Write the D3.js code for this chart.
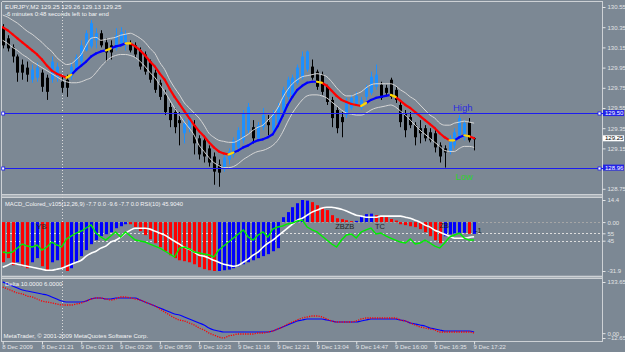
<!DOCTYPE html>
<html lang="en">
<head>
<meta charset="UTF-8">
<title>EURJPY,M2</title>
<script src="https://cdn.jsdelivr.net/npm/d3@7"></script>
<style>
body { margin: 0; background-color: #7c8894; }
svg { display: block; font-family: "Liberation Sans", Arial, sans-serif; }
.frame { stroke: #cdd1d5; shape-rendering: crispEdges; }
.band { fill: none; stroke: #d6d6d6; stroke-width: 1; }
.level { stroke-dasharray: 2,2; shape-rendering: crispEdges; }
</style>
</head>
<body>
<div id="chart"></div>
<script>
// ---- data (bar index 0 = first bar on the left) ----
const symbol = "EURJPY,M2";
const timeLeft = "-6 minutes 0:48 seconds left to bar end";

const open = [130.35,130.24,130.15,130.06,129.98,129.95,129.83,129.85,129.90,129.85,
 129.83,129.85,129.81,129.83,129.86,129.93,130.01,130.12,130.16,130.22,
 130.29,130.20,130.17,130.14,130.19,130.19,130.19,130.17,130.12,130.08,
 130.01,129.90,129.80,129.68,129.56,129.51,129.43,129.30,129.35,129.38,
 129.25,129.23,129.15,129.07,128.99,128.96,129.04,129.09,129.16,129.23,
 129.33,129.36,129.25,129.36,129.41,129.33,129.40,129.53,129.66,129.68,
 129.80,129.85,129.93,129.96,129.91,129.88,129.76,129.63,129.53,129.46,
 129.48,129.55,129.59,129.55,129.66,129.70,129.76,129.78,129.75,129.83,
 129.73,129.58,129.50,129.46,129.38,129.35,129.35,129.31,129.30,129.18,
 129.15,129.12,129.18,129.28,129.26,129.41,129.25];
const high = [130.38,130.27,130.18,130.08,130.03,130.01,129.98,130.00,129.93,129.88,
 130.06,130.00,129.86,129.88,130.00,130.08,130.22,130.32,130.42,130.34,
 130.32,130.24,130.22,130.34,130.35,130.32,130.22,130.20,130.15,130.11,
 130.03,129.93,129.83,129.73,129.60,129.55,129.51,129.45,129.51,129.43,
 129.28,129.26,129.18,129.11,129.04,129.09,129.15,129.26,129.36,129.53,
 129.60,129.43,129.41,129.55,129.48,129.53,129.60,129.76,129.86,129.88,
 129.98,130.11,130.12,130.03,129.93,129.91,129.78,129.66,129.56,129.51,
 129.65,129.68,129.71,129.66,129.78,129.91,129.98,129.81,129.78,129.85,
 129.76,129.63,129.53,129.51,129.41,129.43,129.38,129.35,129.33,129.21,
 129.18,129.28,129.35,129.48,129.43,129.45,129.26];
const low = [130.14,130.11,130.00,129.81,129.83,129.81,129.80,129.81,129.71,129.63,
 129.80,129.81,129.70,129.66,129.83,129.91,129.98,130.11,130.14,130.14,
 130.15,130.01,130.03,130.12,130.16,130.12,130.10,130.05,129.93,129.88,
 129.80,129.70,129.63,129.48,129.36,129.30,129.18,129.20,129.31,129.09,
 129.04,129.01,128.97,128.79,128.77,128.92,128.99,129.06,129.13,129.20,
 129.30,129.20,129.23,129.33,129.28,129.31,129.38,129.51,129.63,129.66,
 129.78,129.83,129.91,129.83,129.73,129.68,129.58,129.36,129.30,129.26,
 129.45,129.53,129.57,129.53,129.63,129.68,129.73,129.63,129.67,129.64,
 129.60,129.36,129.26,129.35,129.18,129.20,129.22,129.21,129.11,129.01,
 128.96,129.09,129.15,129.25,129.23,129.21,129.13];
const close = [130.17,130.14,130.06,129.90,129.90,129.88,129.93,129.95,129.76,129.71,
 130.01,129.96,129.75,129.75,129.96,130.05,130.17,130.29,130.39,130.29,
 130.17,130.10,130.10,130.27,130.30,130.28,130.12,130.08,129.96,129.91,
 129.83,129.73,129.66,129.51,129.43,129.36,129.40,129.40,129.46,129.20,
 129.09,129.07,129.01,128.92,128.91,129.06,129.12,129.23,129.33,129.50,
 129.56,129.25,129.38,129.48,129.38,129.50,129.56,129.73,129.83,129.85,
 129.95,130.06,130.11,129.85,129.76,129.71,129.61,129.45,129.35,129.41,
 129.60,129.65,129.67,129.63,129.75,129.86,129.88,129.65,129.70,129.66,
 129.63,129.41,129.33,129.38,129.26,129.30,129.25,129.23,129.16,129.07,
 129.11,129.25,129.31,129.45,129.40,129.23,129.25];

// thick moving average and its trend state per segment (r falling, b rising, y turn)
const ma = [130.35,130.32,130.28,130.24,130.20,130.16,130.12,130.08,130.03,129.97,
 129.92,129.89,129.87,129.85,129.88,129.93,129.97,130.01,130.06,130.09,
 130.11,130.12,130.14,130.16,130.17,130.19,130.19,130.16,130.12,130.07,
 130.01,129.96,129.89,129.83,129.74,129.66,129.59,129.52,129.45,129.38,
 129.32,129.27,129.21,129.16,129.12,129.10,129.09,129.11,129.13,129.16,
 129.18,129.21,129.23,129.24,129.26,129.29,129.37,129.47,129.58,129.66,
 129.73,129.77,129.80,129.81,129.81,129.80,129.77,129.72,129.67,129.63,
 129.61,129.59,129.58,129.57,129.60,129.63,129.65,129.66,129.67,129.68,
 129.66,129.62,129.58,129.55,129.51,129.47,129.43,129.39,129.35,129.30,
 129.26,129.23,129.23,129.26,129.28,129.27,129.25];
const maTrend = ("rrrrrrrrrrrrr" + "y" + "bbbbbbb" + "y" + "bbb" + "y" +
 "rrrrrrrrrrrrrrrrrrrr" + "y" + "bbbbbbbbbbbbbbbbb" + "y" + "rrrrrrrr" + "y" +
 "bbbbb" + "y" + "rrrrrrrrrrr" + "y" + "bb" + "y" + "r").split("");

const bandUpper = [130.47,130.45,130.42,130.39,130.35,130.31,130.28,130.24,130.20,130.15,
 130.11,130.05,130.01,129.98,129.99,130.03,130.08,130.17,130.24,130.25,
 130.22,130.23,130.24,130.25,130.27,130.28,130.29,130.27,130.24,130.20,
 130.14,130.09,130.00,129.93,129.83,129.75,129.68,129.60,129.55,129.50,
 129.45,129.38,129.30,129.26,129.23,129.22,129.21,129.21,129.23,129.26,
 129.29,129.33,129.36,129.38,129.43,129.48,129.55,129.65,129.73,129.79,
 129.83,129.86,129.87,129.88,129.89,129.88,129.86,129.81,129.75,129.70,
 129.67,129.67,129.69,129.71,129.75,129.78,129.79,129.79,129.79,129.79,
 129.77,129.73,129.70,129.66,129.63,129.58,129.53,129.48,129.45,129.40,
 129.38,129.38,129.40,129.41,129.42,129.41,129.40];
const bandLower = [130.22,130.19,130.15,130.12,130.08,130.05,130.01,129.98,129.95,129.92,
 129.89,129.86,129.83,129.81,129.80,129.80,129.81,129.83,129.85,129.90,
 129.96,130.01,130.05,130.07,130.08,130.08,130.07,130.05,130.01,129.96,
 129.90,129.85,129.78,129.71,129.63,129.55,129.48,129.41,129.35,129.28,
 129.18,129.12,129.06,129.01,128.98,128.96,128.96,128.97,129.00,129.04,
 129.07,129.10,129.12,129.13,129.15,129.18,129.23,129.31,129.41,129.50,
 129.57,129.63,129.67,129.68,129.68,129.67,129.65,129.61,129.57,129.53,
 129.50,129.49,129.48,129.48,129.50,129.53,129.55,129.56,129.57,129.58,
 129.56,129.52,129.48,129.43,129.38,129.33,129.29,129.25,129.21,129.17,
 129.13,129.12,129.12,129.15,129.17,129.17,129.16];

const highLevel = 129.50, lowLevel = 128.96;
const priceTicks = [130.55,130.35,130.15,129.95,129.75,129.55,129.35,129.15,128.75];

// MACD_Colored histogram, its colour state, signal line and RSI(10)
const macdHist = [-26.2,-23.5,-28.1,-26.2,-28.8,-30.1,-26.2,-23.5,-28.8,-31.4,
 -26.2,-24.9,-30.1,-31.9,-30.1,-26.2,-22.2,-18.3,-14.4,-11.8,
 -9.2,-7.9,-6.6,-4.0,-2.7,-1.4,-1.4,-3.3,-5.9,-8.5,
 -11.2,-13.8,-16.4,-19.0,-21.6,-23.5,-24.9,-25.5,-26.2,-27.5,
 -29.4,-30.7,-31.4,-31.9,-31.9,-31.4,-31.0,-30.1,-28.8,-27.5,
 -26.2,-24.9,-23.5,-22.2,-20.9,-19.0,-17.0,3.2,6.5,9.7,
 12.3,14.4,14.0,13.0,11.0,9.7,7.8,4.5,2.5,1.9,
 1.2,0.6,0.8,3.8,5.2,5.5,4.5,3.8,3.2,2.0,
 1.0,-1.4,-2.0,-2.7,-3.3,-4.6,-6.6,-9.2,-11.8,-13.8,
 -9.2,-8.0,-7.5,-7.2,-7.0,-7.6,-7.7];
const macdState = ("rrrbrrbbrrbbrr" + "bbbbbbbbbbbb" + "rrrrrrrrrrrrrrrrrr" +
 "bbbbbbbbbbbbbbbbbbb" + "rrrrrrrrr" + "bbbb" + "rrrrrrrrrrrrrr" + "bbbbb" + "r" + "b").split("");
const macdSignal = [-29.4,-28.1,-26.8,-27.5,-28.1,-28.8,-29.4,-30.1,-30.7,-31.4,
 -31.4,-30.7,-30.1,-28.8,-27.5,-26.2,-24.9,-22.2,-20.3,-19.0,
 -17.0,-15.7,-13.1,-11.8,-9.8,-7.2,-5.3,-4.0,-4.0,-4.0,
 -4.6,-5.9,-7.2,-8.5,-10.5,-12.5,-14.4,-16.4,-17.7,-19.6,
 -21.6,-22.2,-23.5,-24.9,-26.2,-27.5,-28.1,-28.8,-28.1,-26.2,
 -24.2,-21.6,-19.6,-16.4,-13.8,-11.8,-9.2,-6.6,-4.0,-1.4,
 1.2,2.5,4.5,6.5,7.8,9.1,9.7,9.7,9.1,8.4,
 7.2,5.8,4.5,3.9,3.2,3.2,3.2,3.9,3.9,3.9,
 3.9,3.9,3.2,2.5,1.2,-0.1,-2.0,-3.3,-5.3,-6.6,
 -7.9,-9.2,-10.5,-10.5,-10.5,-10.0,-9.6];
const rsi = [29.7,28.4,29.7,35.1,40.5,37.8,36.5,39.2,32.4,36.5,
 43.2,39.2,36.5,47.3,51.4,55.4,58.1,62.2,66.2,55.4,
 50.0,45.9,51.4,56.8,50.0,56.8,51.4,45.9,44.6,43.2,
 40.5,37.8,35.1,31.1,27.0,23.0,35.1,36.5,33.8,29.7,
 28.4,27.0,25.7,23.0,32.4,37.8,43.2,48.6,54.1,59.5,
 50.0,45.9,52.7,56.8,50.0,60.8,63.5,64.9,67.6,68.9,
 71.6,73.0,63.5,59.5,56.8,51.4,45.9,40.5,36.5,45.9,
 52.7,54.1,48.6,56.8,59.5,62.2,54.1,55.4,51.4,48.6,
 45.9,43.2,41.9,47.3,40.5,41.9,45.9,41.9,37.8,35.1,
 41.9,50.0,52.7,55.4,48.6,45.9,45.904];
const rsiLevels = [55, 45];
const macdNotes = [["YB", 6.9, -4.6], ["ZBZB", 67.7, -4.8], ["TC", 75.8, -4.6], ["ZB", 88.9, -4.0], ["-1", 96.2, -7.2]];

// Delta(10,6) lines
const deltaBlue = [133.7,128.4,123.2,118.0,112.7,110.1,107.5,104.9,102.3,99.7,
 94.5,89.2,84.0,81.4,81.4,81.4,81.4,84.0,89.2,91.9,
 91.9,89.2,89.2,91.9,91.9,91.9,91.9,91.9,86.6,81.4,
 76.2,71.0,65.7,60.5,55.3,50.0,47.4,42.2,37.0,31.8,
 26.5,21.3,13.5,8.3,5.6,3.0,3.0,3.0,3.0,3.0,
 3.0,3.0,3.0,3.0,3.0,5.6,10.9,16.1,21.3,26.5,
 31.8,34.4,37.0,37.0,37.0,37.0,34.4,31.8,29.2,29.2,
 29.2,29.2,29.2,31.8,34.4,37.0,37.0,37.0,37.0,37.0,
 37.0,34.4,31.8,26.5,23.9,21.3,18.7,13.5,10.9,8.3,
 5.6,5.6,5.6,5.6,5.6,5.6,3.0];
const deltaRed = [120.6,115.4,110.1,104.9,102.3,97.1,94.5,89.2,84.0,81.4,
 78.8,76.2,73.6,73.6,73.6,76.2,78.8,84.0,89.2,91.9,
 91.9,89.2,86.6,89.2,94.5,94.5,91.9,89.2,86.6,81.4,
 76.2,71.0,63.1,55.3,47.4,39.6,34.4,31.8,26.5,21.3,
 13.5,8.3,0.4,-4.8,-10.0,-12.65,-7.4,-4.8,-2.2,-2.2,
 -2.2,-2.2,0.4,0.4,3.0,5.6,10.9,16.1,23.9,29.2,
 34.4,39.6,42.2,44.8,44.8,42.2,37.0,31.8,29.2,29.2,
 29.2,29.2,31.8,37.0,39.6,39.6,39.6,39.6,39.6,39.6,
 39.6,34.4,31.8,26.5,21.3,16.1,13.5,10.9,8.3,3.0,
 3.0,3.0,3.0,3.0,3.0,3.0,0.4];

const dates = ["8 Dec 2009","8 Dec 21:21","9 Dec 02:13","9 Dec 03:26","9 Dec 08:59","9 Dec 10:23",
 "9 Dec 11:16","9 Dec 12:21","9 Dec 13:04","9 Dec 14:47","9 Dec 16:00","9 Dec 16:35","9 Dec 17:22"];
const dateBars = [0,8,16,24,32,40,48,56,64,72,80,88,96];
const separatorBar = 12;

// ---- layout ----
const width = 625, height = 352;
const plotLeft = 2, plotRight = 602.5;
const mainPane = {top: 2, bottom: 194};
const macdPane = {top: 197.5, bottom: 275.5};
const deltaPane = {top: 279, bottom: 341};
const bullColor = "#1e90ff", bearColor = "#000000";
const lastBar = close.length - 1;
const bars = d3.range(close.length);

const svg = d3.select("#chart").append("svg")
    .attr("width", width)
    .attr("height", height);

svg.append("rect").attr("width", width).attr("height", height).attr("fill", "#7c8894");

const defs = svg.append("defs");
[["clipMain", mainPane], ["clipMacd", macdPane], ["clipDelta", deltaPane]].forEach(([id, p]) => {
    defs.append("clipPath").attr("id", id).append("rect")
        .attr("x", plotLeft).attr("y", p.top)
        .attr("width", plotRight - plotLeft).attr("height", p.bottom - p.top);
});

const x = d3.scaleLinear().domain([0, lastBar]).range([2.7, 474.1]);
const yPrice = d3.scaleLinear().domain([128.75, 130.55]).range([188.8, 7]);
const yMacd = d3.scaleLinear().domain([-31.9, 14.4]).range([271, 200]);
const yRsi = d3.scaleLinear().domain([0, 100]).range([274, 200]);
const yDelta = d3.scaleLinear().domain([-12.65, 133.65]).range([338, 282]);
const px = i => Math.round(x(i));

// pane separators and frame
[mainPane.bottom, macdPane.bottom].forEach(y0 => {
    svg.append("rect").attr("x", plotLeft).attr("y", y0)
        .attr("width", plotRight - plotLeft).attr("height", 3.5).attr("fill", "#a9b0b7");
    [y0 + 0.5, y0 + 3].forEach(yy => svg.append("line").attr("class", "frame")
        .attr("x1", plotLeft).attr("x2", plotRight).attr("y1", yy).attr("y2", yy).attr("stroke", "#d8dadc"));
});
svg.append("line").attr("class", "frame").attr("x1", 1.5).attr("x2", plotRight).attr("y1", 1.5).attr("y2", 1.5);
svg.append("line").attr("class", "frame").attr("x1", 1.5).attr("x2", 1.5).attr("y1", 1.5).attr("y2", deltaPane.bottom + 0.5);
svg.append("line").attr("class", "frame").attr("x1", plotRight).attr("x2", plotRight).attr("y1", 1.5).attr("y2", deltaPane.bottom + 0.5);
svg.append("line").attr("class", "frame").attr("x1", 1.5).attr("x2", plotRight).attr("y1", deltaPane.bottom + 0.5).attr("y2", deltaPane.bottom + 0.5);

// period separator
svg.append("line")
    .attr("x1", px(separatorBar) + 0.5).attr("x2", px(separatorBar) + 0.5)
    .attr("y1", 2).attr("y2", deltaPane.bottom)
    .attr("stroke", "#dcdcdc").attr("stroke-dasharray", "1,2");

// ---- main pane ----
const gMain = svg.append("g").attr("clip-path", "url(#clipMain)");
const candleColor = i => close[i] > open[i] ? bullColor : bearColor;

gMain.append("g").selectAll("line").data(bars).join("line")
    .attr("x1", i => px(i) + 0.5).attr("x2", i => px(i) + 0.5)
    .attr("y1", i => yPrice(high[i])).attr("y2", i => yPrice(low[i]))
    .attr("stroke", candleColor);
gMain.append("g").selectAll("rect").data(bars).join("rect")
    .attr("x", i => px(i) - 1).attr("width", 3)
    .attr("y", i => yPrice(Math.max(open[i], close[i])))
    .attr("height", i => Math.max(1, Math.abs(yPrice(open[i]) - yPrice(close[i]))))
    .attr("fill", candleColor);

const priceLine = d3.line().x((d, i) => x(i)).y(d => yPrice(d)).curve(d3.curveMonotoneX);
[bandUpper, bandLower].forEach(b => gMain.append("path").attr("class", "band").attr("d", priceLine(b)));

const trendColor = {r: "#ff0000", b: "#0000ff", y: "#ffd700"};
["r", "b", "y"].forEach(state => {
    gMain.append("g").selectAll("line").data(bars.slice(0, -1).filter(i => maTrend[i] === state)).join("line")
        .attr("x1", i => x(i)).attr("y1", i => yPrice(ma[i]))
        .attr("x2", i => x(i + 1)).attr("y2", i => yPrice(ma[i + 1]))
        .attr("stroke", trendColor[state]).attr("stroke-width", 2.2).attr("stroke-linecap", "round");
});

// High / Low levels
[highLevel, lowLevel].forEach(v => {
    const yy = Math.round(yPrice(v)) + 0.5;
    svg.append("line").attr("x1", 2).attr("x2", plotRight).attr("y1", yy).attr("y2", yy)
        .attr("stroke", "#1c1cf0").attr("shape-rendering", "crispEdges");
    [3.2, 599.5].forEach(cx => svg.append("rect").attr("x", cx - 1.5).attr("y", yy - 1.5)
        .attr("width", 3).attr("height", 3).attr("fill", "#ffffff").attr("stroke", "#1c1cf0").attr("stroke-width", 0.8));
});
svg.append("text").attr("x", 453).attr("y", yPrice(highLevel) - 2)
    .attr("font-size", 9.5).attr("fill", "#2b2be0").text("High");
svg.append("text").attr("x", 455.5).attr("y", yPrice(lowLevel) + 12)
    .attr("font-size", 9.5).attr("fill", "#2fd12f").text("Low");

// titles
svg.append("text").attr("x", 5).attr("y", 8.5).attr("font-size", 6.2).attr("fill", "#f4f4f4")
    .text(`${symbol}  ${open[lastBar].toFixed(2)} ${high[lastBar].toFixed(2)} ${low[lastBar].toFixed(2)} ${close[lastBar].toFixed(2)}`);
svg.append("text").attr("x", 5).attr("y", 15.5).attr("font-size", 6).attr("fill", "#f4f4f4").text(timeLeft);

// ---- MACD + RSI pane ----
const gMacd = svg.append("g").attr("clip-path", "url(#clipMacd)");
gMacd.append("line").attr("class", "level").attr("x1", 2).attr("x2", plotRight)
    .attr("y1", Math.round(yMacd(0)) + 0.5).attr("y2", Math.round(yMacd(0)) + 0.5).attr("stroke", "#a6a6a6");
rsiLevels.forEach(v => gMacd.append("line").attr("class", "level").attr("x1", 2).attr("x2", plotRight)
    .attr("y1", Math.round(yRsi(v)) + 0.5).attr("y2", Math.round(yRsi(v)) + 0.5).attr("stroke", "#dedede"));

gMacd.append("g").selectAll("rect").data(bars).join("rect")
    .attr("x", i => px(i) - 1).attr("width", 3)
    .attr("y", i => Math.min(yMacd(0), yMacd(macdHist[i])))
    .attr("height", i => Math.abs(yMacd(macdHist[i]) - yMacd(0)))
    .attr("fill", i => macdState[i] === "r" ? "#ff0000" : "#0000ff");

gMacd.append("path")
    .attr("d", d3.line().x((d, i) => x(i)).y(d => yMacd(d)).curve(d3.curveMonotoneX)(macdSignal))
    .attr("fill", "none").attr("stroke", "#ffffff").attr("stroke-width", 1.6);
gMacd.append("path")
    .attr("d", d3.line().x((d, i) => x(i)).y(d => yRsi(d))(rsi))
    .attr("fill", "none").attr("stroke", "#00ee00").attr("stroke-width", 1.4);

gMacd.selectAll(".note").data(macdNotes).join("text")
    .attr("x", d => x(d[1])).attr("y", d => yMacd(d[2]))
    .attr("font-size", 7.5).attr("fill", "#262626").text(d => d[0]);

svg.append("text").attr("x", 5).attr("y", 206).attr("font-size", 5.8).attr("fill", "#f4f4f4")
    .text(`MACD_Colored_v105(12,26,9) ${macdHist[lastBar].toFixed(1)} 0.0 ${macdSignal[lastBar].toFixed(1)} ${macdHist[lastBar].toFixed(1)} 0.0  RSI(10) ${rsi[lastBar].toFixed(4)}`);

// ---- Delta pane ----
const gDelta = svg.append("g").attr("clip-path", "url(#clipDelta)");
const deltaLine = d3.line().x((d, i) => x(i)).y(d => yDelta(d)).curve(d3.curveMonotoneX);
gDelta.append("path").attr("d", deltaLine(deltaBlue))
    .attr("fill", "none").attr("stroke", "#0000ff").attr("stroke-width", 1.2);
gDelta.append("path").attr("d", deltaLine(deltaRed))
    .attr("fill", "none").attr("stroke", "#ff0000").attr("stroke-width", 1.3).attr("stroke-dasharray", "1.2,1.2");
svg.append("text").attr("x", 5).attr("y", 286).attr("font-size", 6).attr("fill", "#f4f4f4").text("Delta 10.0000 6.0000");
svg.append("text").attr("x", 3.5).attr("y", 338).attr("font-size", 6).attr("fill", "#f4f4f4")
    .text("MetaTrader, \u00a9 2001-2009 MetaQuotes Software Corp.");

// ---- axes ----
function styleAxis(g) {
    g.attr("font-family", null).attr("font-size", 6).attr("color", "#e2e4e6");
    g.select(".domain").remove();
}
svg.append("g").attr("transform", `translate(${plotRight},0)`)
    .call(d3.axisRight(yPrice).tickValues(priceTicks).tickSize(3).tickPadding(2).tickFormat(d3.format(".2f")))
    .call(styleAxis);
svg.append("g").attr("transform", `translate(${plotRight},0)`)
    .call(d3.axisRight(yMacd).tickValues([14.4, 0, -31.9]).tickSize(3).tickPadding(2)
        .tickFormat(d => d === 0 ? "0.00" : d.toFixed(1)))
    .call(styleAxis);
svg.append("g").attr("transform", `translate(${plotRight},0)`)
    .call(d3.axisRight(yRsi).tickValues(rsiLevels).tickSize(3).tickPadding(2).tickFormat(d3.format("d")))
    .call(styleAxis);
svg.append("g").attr("transform", `translate(${plotRight},0)`)
    .call(d3.axisRight(yDelta).tickValues([133.65, 0, -12.65]).tickSize(3).tickPadding(2).tickFormat(d3.format(".2f")))
    .call(styleAxis);

svg.append("g").attr("transform", `translate(0,${deltaPane.bottom + 0.5})`)
    .call(d3.axisBottom(x).tickValues(dateBars).tickSize(3).tickPadding(0.5).tickFormat((d, i) => dates[i]))
    .call(styleAxis)
    .call(g => g.selectAll("text").attr("text-anchor", "start").attr("x", -1));

// price markers on the right scale
[[highLevel, "#2323e6", "#ffffff"], [lowLevel, "#2323e6", "#ffffff"], [close[lastBar], "#ffffff", "#000000"]]
    .forEach(([v, bg, fg]) => {
        const yy = yPrice(v);
        svg.append("rect").attr("x", 603).attr("y", yy - 3).attr("width", 21).attr("height", 6).attr("fill", bg);
        svg.append("text").attr("x", 605).attr("y", yy + 2).attr("font-size", 6).attr("fill", fg).text(v.toFixed(2));
    });
</script>
</body>
</html>
